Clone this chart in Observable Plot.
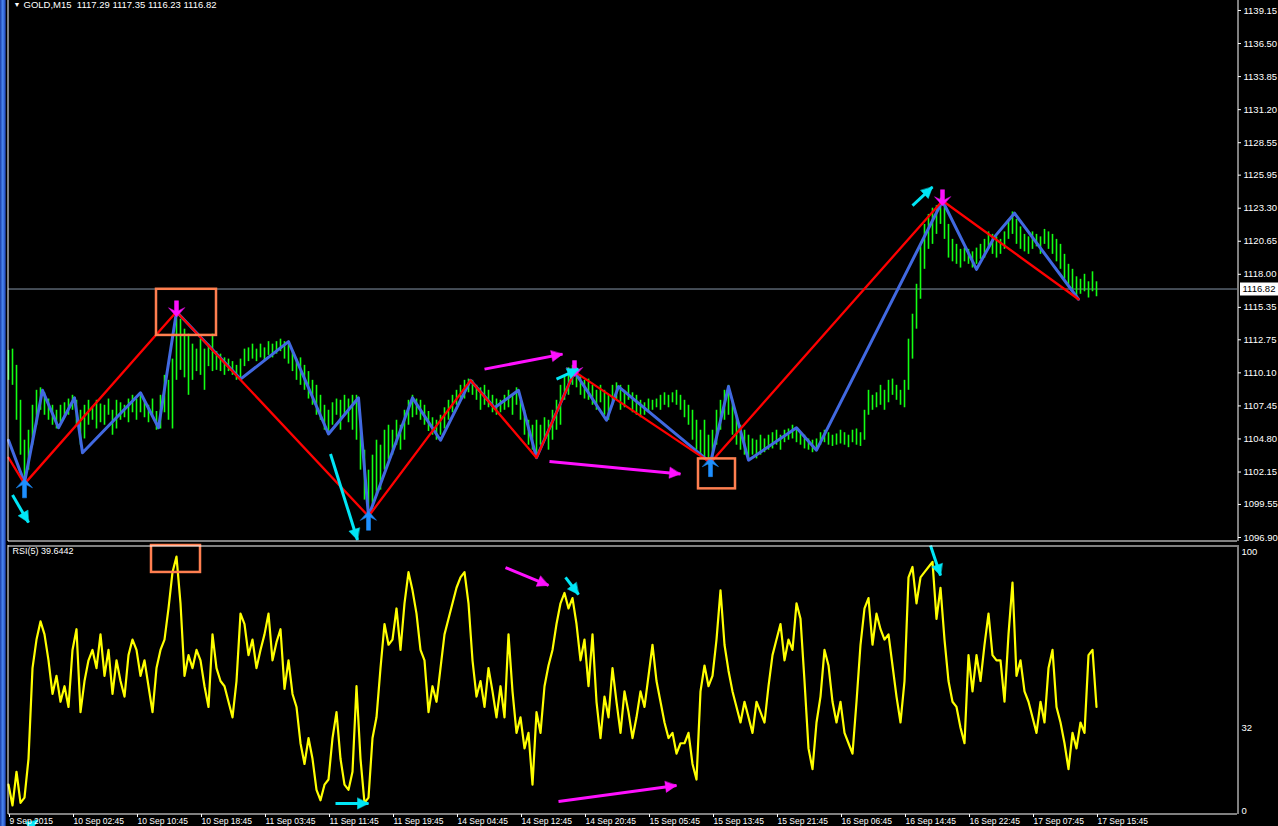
<!DOCTYPE html>
<html><head><meta charset="utf-8">
<script src="https://cdn.jsdelivr.net/npm/d3@7"></script>
<script src="https://cdn.jsdelivr.net/npm/@observablehq/plot@0.6"></script>
<style>
html,body{margin:0;padding:0;background:#000;overflow:hidden;width:1278px;height:826px}
#wrap{position:relative;width:1278px;height:826px}
#edge{position:absolute;left:0;top:0;width:6px;height:826px;z-index:2;background:linear-gradient(90deg,#1a3ca6,#4a86f0 45%,#2a55c8 80%,#0b1a50)}
#wrap svg{display:block}
</style></head><body><div id="wrap"><div id="edge"></div><div id="price"></div><div id="rsi"></div></div>
<script>
// ---------- data ----------
const header = "GOLD,M15  1117.29 1117.35 1116.23 1116.82";
const rsiLabel = "RSI(5) 39.6442";
const lastPrice = 1116.82;
const tickLabels = ["9 Sep 2015","10 Sep 02:45","10 Sep 10:45","10 Sep 18:45","11 Sep 03:45","11 Sep 11:45","11 Sep 19:45","14 Sep 04:45","14 Sep 12:45","14 Sep 20:45","15 Sep 05:45","15 Sep 13:45","15 Sep 21:45","16 Sep 06:45","16 Sep 14:45","16 Sep 22:45","17 Sep 07:45","17 Sep 15:45"];
const tickBars = [0,32,64,96,128,160,192,224,256,288,320,352,384,416,448,480,512,544];
const priceTicks = [1139.15,1136.50,1133.85,1131.20,1128.55,1125.95,1123.30,1120.65,1118.00,1115.35,1112.75,1110.10,1107.45,1104.80,1102.15,1099.55,1096.90];
const rsiTicks = [100,32,0];

// one entry every 2 bars (bar index = 2*k)
const barHigh = [1111.9,1112.0,1110.7,1107.9,1104.7,1105.5,1107.5,1108.7,1108.9,1108.5,
1108.0,1107.5,1107.1,1107.5,1107.7,1108.0,1108.3,1107.9,1107.1,1107.5,
1107.9,1107.3,1107.9,1107.6,1107.5,1108.0,1107.1,1107.9,1107.7,1107.5,
1108.0,1108.3,1108.0,1108.5,1107.9,1107.5,1108.0,1107.0,1108.3,1109.9,
1109.5,1111.2,1114.9,1114.4,1113.6,1113.2,1112.4,1112.0,1112.8,1112.0,
1112.4,1113.2,1111.8,1111.6,1111.3,1111.2,1111.0,1110.7,1111.2,1112.0,
1112.1,1112.4,1112.0,1112.4,1112.1,1112.6,1112.4,1112.6,1112.8,1112.6,
1112.4,1111.8,1111.2,1111.3,1110.7,1110.2,1109.5,1109.1,1108.3,1107.5,
1107.1,1107.7,1108.0,1107.9,1108.3,1108.0,1108.3,1108.3,1106.3,1103.9,
1102.3,1103.5,1104.7,1104.3,1105.5,1105.9,1105.5,1106.3,1105.9,1107.1,
1107.9,1108.3,1108.0,1107.9,1107.5,1107.0,1106.5,1106.3,1106.7,1107.3,
1107.9,1108.3,1108.7,1109.1,1109.5,1109.6,1109.5,1109.1,1108.9,1109.1,
1108.7,1108.3,1108.0,1107.9,1108.3,1108.7,1108.3,1108.9,1107.9,1107.1,
1106.3,1105.9,1106.3,1105.9,1106.5,1106.3,1107.1,1107.9,1109.1,1109.9,
1110.5,1110.7,1110.5,1109.9,1109.5,1109.6,1109.1,1108.7,1109.1,1108.7,
1108.3,1109.1,1109.3,1109.1,1108.7,1109.1,1108.5,1108.3,1107.9,1107.7,
1108.0,1107.9,1108.0,1108.3,1108.5,1108.3,1108.5,1108.7,1108.3,1107.9,
1107.5,1107.1,1106.3,1105.5,1106.3,1105.1,1105.5,1107.1,1107.9,1108.7,
1109.1,1107.9,1106.7,1105.9,1105.5,1105.1,1104.8,1104.7,1105.1,1104.8,
1105.1,1105.3,1105.5,1105.1,1105.5,1105.6,1105.9,1105.6,1105.3,1105.1,
1104.8,1104.7,1104.8,1105.3,1105.5,1105.3,1105.1,1105.2,1105.5,1105.3,
1105.1,1105.5,1105.6,1105.3,1107.1,1108.7,1108.3,1108.5,1109.1,1108.7,
1109.5,1109.6,1109.1,1108.7,1109.5,1112.8,1114.8,1117.2,1120.4,1122.0,
1122.8,1123.3,1123.5,1124.1,1123.5,1122.0,1120.8,1120.4,1120.0,1120.1,
1120.0,1119.8,1120.1,1120.4,1120.8,1121.4,1121.2,1121.0,1120.8,1121.4,
1122.4,1123.0,1122.4,1121.8,1121.2,1121.0,1121.4,1121.2,1121.0,1121.6,
1121.4,1121.2,1120.8,1120.4,1119.6,1118.8,1118.4,1117.8,1117.6,1118.0,
1117.4,1118.2,1117.4];
const barLow = [1109.5,1109.1,1106.3,1103.5,1101.5,1102.3,1104.3,1105.9,1107.1,1106.7,
1106.3,1105.9,1105.6,1106.1,1106.5,1106.7,1107.1,1105.9,1104.3,1104.8,
1105.9,1106.3,1105.6,1106.1,1105.9,1106.7,1105.1,1105.6,1106.3,1106.5,
1106.1,1106.9,1106.3,1106.9,1106.5,1106.1,1106.7,1105.5,1105.6,1106.9,
1106.3,1105.6,1109.5,1110.3,1109.7,1108.3,1109.5,1110.2,1109.9,1108.7,
1110.6,1110.2,1110.3,1110.2,1109.9,1110.2,1109.9,1109.5,1109.6,1110.6,
1111.0,1111.2,1111.0,1111.3,1111.0,1111.5,1111.3,1111.6,1111.8,1111.2,
1110.8,1110.2,1109.5,1109.1,1108.7,1108.0,1107.5,1106.7,1106.3,1105.5,
1105.1,1105.9,1106.7,1105.5,1106.7,1106.1,1105.5,1104.7,1102.3,1099.9,
1098.7,1099.5,1100.3,1100.7,1102.3,1103.1,1103.5,1104.3,1103.9,1104.7,
1105.9,1106.5,1106.7,1106.3,1105.9,1105.4,1105.1,1104.7,1105.1,1105.6,
1106.3,1106.9,1107.5,1107.9,1108.0,1108.5,1108.3,1107.9,1107.1,1107.5,
1107.3,1106.9,1106.7,1106.9,1107.1,1107.3,1106.7,1107.5,1106.3,1105.1,
1104.3,1103.9,1103.5,1104.3,1104.7,1103.9,1104.7,1105.5,1105.9,1107.9,
1108.3,1109.1,1108.9,1108.3,1108.0,1107.9,1107.5,1107.1,1107.7,1106.7,
1106.3,1107.5,1107.9,1107.1,1107.3,1107.9,1106.9,1106.7,1106.5,1106.7,
1106.9,1107.1,1107.3,1107.1,1107.5,1107.3,1107.7,1107.5,1107.1,1106.5,
1105.9,1104.7,1103.9,1103.5,1103.1,1102.7,1102.9,1104.3,1105.5,1106.3,
1106.7,1105.1,1104.3,1103.9,1103.5,1103.1,1103.5,1103.2,1103.5,1103.7,
1103.9,1104.0,1104.3,1103.9,1104.5,1104.7,1104.8,1104.5,1104.3,1104.0,
1103.9,1103.7,1104.0,1104.3,1104.5,1104.3,1104.2,1104.3,1104.4,1104.3,
1104.1,1104.5,1104.3,1104.2,1104.7,1106.7,1107.1,1107.3,1107.5,1107.1,
1107.7,1108.3,1107.9,1107.5,1107.3,1108.7,1111.2,1113.6,1116.0,1118.4,
1120.0,1120.4,1121.2,1122.0,1120.8,1119.3,1119.0,1118.8,1118.5,1119.0,
1118.8,1118.5,1118.8,1119.2,1119.3,1120.0,1119.6,1119.3,1119.6,1120.0,
1120.8,1121.2,1120.4,1120.0,1119.8,1119.6,1120.0,1120.2,1119.6,1120.4,
1120.0,1119.6,1119.0,1118.4,1117.6,1117.0,1116.6,1116.1,1116.4,1116.6,
1116.1,1116.6,1116.2];
const rsiValues = [10,2,15,3,5,20,55,66,73,68,
58,45,52,42,48,40,62,70,38,50,
58,62,55,68,52,62,45,58,50,44,
60,66,62,52,58,48,38,55,62,66,
78,92,98,80,52,60,55,62,58,48,
40,68,55,50,48,42,36,50,76,72,
60,66,55,62,68,76,58,65,70,47,
58,45,40,26,18,28,20,8,4,10,
12,28,38,20,10,8,15,48,20,3,
5,28,36,55,72,64,66,78,62,80,
92,85,76,62,58,38,48,42,55,68,
74,80,86,90,92,80,58,44,50,40,
55,46,36,48,36,68,46,30,36,24,
30,10,38,30,48,56,62,72,80,84,
78,82,72,58,66,48,68,42,28,44,
36,55,42,30,46,38,28,36,46,40,
52,64,50,42,34,28,30,22,26,
26,30,18,12,46,56,48,52,66,85,
64,54,46,40,34,42,36,30,42,38,
34,48,60,66,72,58,66,62,
80,74,50,24,16,34,44,62,56,42,
34,42,30,26,22,42,64,78,82,64,
76,70,66,68,56,44,34,50,90,94,
80,90,92,94,96,74,86,66,50,42,
40,32,26,60,46,60,50,64,76,60,
58,58,42,68,88,52,58,46,42,36,
30,42,34,55,62,40,34,26,16,30,
24,34,30,60,62,40];

const redZigBar   = [0,8,84,180,231,264,283,351,467,535];
const redZigPrice = [1103.3,1101.2,1115.0,1098.6,1109.5,1103.3,1110.2,1102.9,1123.9,1116.0];
const blueZigBar   = [0,8,17,25,33,37,66,75,84,116,140,160,175,180,202,216,231,243,255,264,283,299,305,351,360,370,394,404,467,484,493,503,535];
const blueZigPrice = [1104.7,1101.3,1108.7,1105.7,1108.1,1103.7,1108.5,1105.7,1115.0,1109.6,1112.6,1105.2,1108.1,1098.6,1108.1,1104.7,1109.5,1107.3,1108.7,1103.3,1110.2,1106.3,1109.0,1102.9,1109.0,1103.1,1105.7,1103.9,1123.9,1118.4,1121.0,1122.9,1116.0];
const lowPivotBar = [8,180,351], lowPivotPrice = [1101.2,1098.6,1102.9];
const highPivotBar = [84,283,467], highPivotPrice = [1115.0,1110.2,1123.9];

// annotations (bar index / value)
const priceBoxes = [{b1:74,b2:104,p1:1116.8,p2:1113.1},{b1:345,b2:363.5,p1:1103.2,p2:1100.8}];
const rsiBoxes = [{b1:71.5,b2:96,p1:102.3,p2:91.9}];
const priceCyan = [{b1:2,v1:1100.3,b2:10,v2:1098.1},{b1:161,v1:1103.6,b2:174.5,v2:1096.7},{b1:452,v1:1123.5,b2:462,v2:1125.0},{b1:274,v1:1109.6,b2:285,v2:1110.4}];
const priceMagenta = [{b1:238,v1:1110.4,b2:277,v2:1111.6},{b1:270.5,v1:1103.0,b2:336,v2:1102.0}];
const rsiCyan = [{b1:278.5,v1:90,b2:285,v2:83.4},{b1:461,v1:102.3,b2:466,v2:90.7},{b1:163.5,v1:2.7,b2:180,v2:2.7},{b1:5,v1:-9,b2:14.5,v2:-3.8}];
const rsiMagenta = [{b1:248.5,v1:93.8,b2:270,v2:86.9},{b1:275,v1:3.5,b2:334,v2:9.7}];

// ---------- build ----------
const bars = barHigh.map((h,k)=>({i:k*2, high:h, low:barLow[k]}));
const rsiData = rsiValues.map((v,k)=>({i:k*2, v}));
const red = redZigBar.map((b,j)=>({i:b, p:redZigPrice[j]}));
const blue = blueZigBar.map((b,j)=>({i:b, p:blueZigPrice[j]}));
const lows = lowPivotBar.map((b,j)=>({i:b, p:lowPivotPrice[j]}));
const highs = highPivotBar.map((b,j)=>({i:b, p:highPivotPrice[j]}));

const W = 1278, ML = 8, MR = 41;
const xDomain = [0, 614.5];
const pDomain = [1096.58, 1139.95];
const rDomain = [-1.5, 102.3];
const P_H = 543, P_MT = 0, P_MB = 2;
const R_H = 283, R_MT = 2, R_MB = 12;
const font = "'Liberation Sans', Arial, sans-serif";
const CYAN = "#00e6f6", MAG = "#ff10ff", ORANGE = "#ff7f50";

const kx = (W - ML - MR) / (xDomain[1] - xDomain[0]);
const kyP = (P_H - P_MT - P_MB) / (pDomain[1] - pDomain[0]);
const kyR = (R_H - R_MT - R_MB) / (rDomain[1] - rDomain[0]);
const headAngle = (d, ky) => Math.atan2((d.b2 - d.b1) * kx, (d.v2 - d.v1) * ky) * 180 / Math.PI;

const pivotShape = {
  draw(ctx, l) {
    ctx.moveTo(0, -l);
    ctx.lineTo(8, -l + 9);
    ctx.lineTo(2, -l + 6);
    ctx.lineTo(2, 0);
    ctx.lineTo(-2, 0);
    ctx.lineTo(-2, -l + 6);
    ctx.lineTo(-8, -l + 9);
    ctx.closePath();
  }
};
const headShape = {
  draw(ctx, l) {
    ctx.moveTo(0, -l);
    ctx.lineTo(5.5, 0);
    ctx.lineTo(-5.5, 0);
    ctx.closePath();
  }
};
function arrows(data, color, ky) {
  return [
    Plot.link(data, {x1: "b1", y1: "v1", x2: "b2", y2: "v2", stroke: color, strokeWidth: 3}),
    Plot.vector(data, {x: "b2", y: "v2", length: 11, anchor: "end", rotate: d => headAngle(d, ky), shape: headShape, fill: color, stroke: color, strokeWidth: 0.5})
  ];
}

const pricePlot = Plot.plot({
  width: W, height: P_H,
  marginLeft: ML, marginRight: MR, marginTop: P_MT, marginBottom: P_MB,
  x: {domain: xDomain, axis: null},
  y: {domain: pDomain, axis: null},
  style: {background: "#000", color: "#fff", fontFamily: font, fontSize: "9.5px"},
  marks: [
    Plot.ruleY([lastPrice], {stroke: "#8595a8", strokeWidth: 1}),
    Plot.ruleX(bars, {x: "i", y1: "low", y2: "high", stroke: "#12ff12", strokeWidth: 1.6}),
    Plot.line(blue, {x: "i", y: "p", stroke: "#4169e1", strokeWidth: 3}),
    Plot.line(red, {x: "i", y: "p", stroke: "#ff0000", strokeWidth: 2.3}),
    Plot.vector(lows, {x: "i", y: "p", length: 19, rotate: 0, anchor: "end", dy: -5, shape: pivotShape, fill: "#1e8fff", stroke: "#1e8fff", strokeWidth: 0.5}),
    Plot.vector(highs, {x: "i", y: "p", length: 16, rotate: 180, anchor: "end", dy: 5, shape: pivotShape, fill: MAG, stroke: MAG, strokeWidth: 0.5}),
    Plot.rect(priceBoxes, {x1: "b1", x2: "b2", y1: "p1", y2: "p2", fill: "none", stroke: ORANGE, strokeWidth: 2.5}),
    ...arrows(priceCyan, CYAN, kyP),
    ...arrows(priceMagenta, MAG, kyP),
    Plot.ruleY([pDomain[0]], {stroke: "#fff", strokeWidth: 1, dy: -0.5}),
    Plot.ruleX([xDomain[0]], {stroke: "#fff", strokeWidth: 1, dx: -0.5}),
    Plot.ruleX([xDomain[1]], {stroke: "#fff", strokeWidth: 1, dx: 0.5}),
    Plot.axisY({anchor: "right", ticks: priceTicks, tickFormat: d => d.toFixed(2), tickSize: 3, tickPadding: 3, fontSize: 9.5, stroke: "#fff", fill: "#fff"}),
    Plot.ruleY([lastPrice], {x1: 616, x2: 635, stroke: "#fff", strokeWidth: 13}),
    Plot.text([lastPrice], {x: 616.5, y: d => d, text: d => d.toFixed(2), fill: "#000", textAnchor: "start", fontSize: 9.5, dx: 1}),
    Plot.text(["\u25BC"], {frameAnchor: "top-left", dx: 5, dy: 2, lineAnchor: "top", textAnchor: "start", fill: "#fff", fontSize: 7}),
    Plot.text([header], {frameAnchor: "top-left", dx: 15, dy: 1, lineAnchor: "top", textAnchor: "start", fill: "#fff", fontSize: 9.5})
  ]
});

const rsiPlot = Plot.plot({
  width: W, height: R_H,
  marginLeft: ML, marginRight: MR, marginTop: R_MT, marginBottom: R_MB,
  x: {domain: xDomain, axis: null},
  y: {domain: rDomain, axis: null},
  style: {background: "#000", color: "#fff", fontFamily: font, fontSize: "9px"},
  marks: [
    Plot.line(rsiData, {x: "i", y: "v", stroke: "#ffff00", strokeWidth: 2.2}),
    Plot.rect(rsiBoxes, {x1: "b1", x2: "b2", y1: "p1", y2: "p2", fill: "none", stroke: ORANGE, strokeWidth: 2.5}),
    ...arrows(rsiCyan, CYAN, kyR),
    ...arrows(rsiMagenta, MAG, kyR),
    Plot.ruleY([rDomain[1]], {stroke: "#fff", strokeWidth: 1, dy: 0.5}),
    Plot.ruleY([rDomain[0]], {stroke: "#fff", strokeWidth: 1, dy: -0.5}),
    Plot.ruleX([xDomain[0]], {stroke: "#fff", strokeWidth: 1, dx: -0.5}),
    Plot.ruleX([xDomain[1]], {stroke: "#fff", strokeWidth: 1, dx: 0.5}),
    Plot.axisY({anchor: "right", ticks: rsiTicks, tickSize: 0, tickPadding: 4, fontSize: 9.5, fill: "#fff"}),
    Plot.axisX({anchor: "bottom", ticks: tickBars, tickFormat: d => tickLabels[tickBars.indexOf(d)], tickSize: 3, tickPadding: 0, textAnchor: "start", dx: 1, fontSize: 8.5, stroke: "#fff", fill: "#fff"}),
    Plot.text([rsiLabel], {frameAnchor: "top-left", dx: 4, dy: 2, lineAnchor: "top", textAnchor: "start", fill: "#fff", fontSize: 9})
  ]
});

document.getElementById("price").appendChild(pricePlot);
document.getElementById("rsi").appendChild(rsiPlot);
</script></body></html>
